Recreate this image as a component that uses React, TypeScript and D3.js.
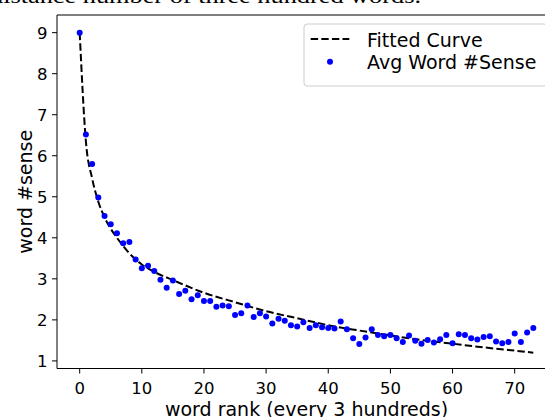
import React from "react";
import * as d3 from "d3";

// average #sense per rank bucket (every 300 words)
const ranks = d3.range(0, 74);
const senses = [
  9.0, 6.52, 5.8, 4.98, 4.53, 4.33, 4.11, 3.87, 3.9, 3.47,
  3.26, 3.32, 3.19, 2.98, 2.78, 2.96, 2.63, 2.71, 2.5, 2.6,
  2.46, 2.46, 2.32, 2.35, 2.33, 2.12, 2.16, 2.35, 2.07, 2.16,
  2.08, 1.91, 2.03, 1.98, 1.87, 1.84, 1.94, 1.8, 1.87, 1.82,
  1.8, 1.79, 1.96, 1.77, 1.55, 1.41, 1.57, 1.77, 1.63, 1.6,
  1.63, 1.55, 1.46, 1.62, 1.49, 1.42, 1.51, 1.45, 1.53, 1.63,
  1.43, 1.65, 1.63, 1.55, 1.52, 1.58, 1.6, 1.47, 1.43, 1.46,
  1.67, 1.46, 1.69, 1.8,
];

// fitted curve
const fitX = [0, 1, 2, 3, 4, 5, 6, 8, 10, 12, 15, 20, 25, 30, 35, 40, 45, 50, 55, 60, 65, 70, 73];
const fitY = [9.0, 6.35, 5.45, 4.88, 4.5, 4.22, 4.0, 3.62, 3.35, 3.17, 2.97, 2.66, 2.43, 2.21, 2.04, 1.87, 1.74, 1.62, 1.51, 1.42, 1.33, 1.25, 1.2];

const xTicks = [0, 10, 20, 30, 40, 50, 60, 70];
const yTicks = [1, 2, 3, 4, 5, 6, 7, 8, 9];

const W = 545;
const H = 417;
const left = 57, right = 556, top = 15, bottom = 368.5;
const font = "'DejaVu Sans', sans-serif";

export default function App() {
  const x = d3.scaleLinear().domain([-3.65, 76.65]).range([left, right]);
  const y = d3.scaleLinear().domain([0.815, 9.43]).range([bottom, top]);

  const fitLine = d3
    .line<number>()
    .x((d, i) => x(fitX[i]))
    .y(d => y(d))
    .curve(d3.curveMonotoneX);

  return (
    <svg width={W} height={H} style={{ position: "absolute", left: 0, top: 0 }}>
      <rect width={W} height={H} fill="#fff" />
      {/* tail of the paper's caption line above the figure */}
      <text x={-10} y={3} fontFamily="'Liberation Serif', serif" fontSize={20} textLength={431} lengthAdjust="spacingAndGlyphs">
        distance number of three hundred words.
      </text>

      <path d={fitLine(fitY) || ""} fill="none" stroke="#000" strokeWidth={2} strokeDasharray="7.4 3.2" />
      {ranks.map((r, i) => (
        <circle key={r} cx={x(r)} cy={y(senses[i])} r={3} fill="#0000ff" />
      ))}

      {/* axes frame */}
      <line x1={left} x2={W} y1={top} y2={top} stroke="#000" strokeWidth={1} />
      <line x1={left} x2={left} y1={top} y2={bottom} stroke="#000" strokeWidth={1} />
      <line x1={left} x2={W} y1={bottom} y2={bottom} stroke="#000" strokeWidth={1} />

      {xTicks.map(t => (
        <g key={t} transform={`translate(${x(t)},0)`}>
          <line y1={bottom} y2={bottom + 5} stroke="#000" />
          <text y={394} textAnchor="middle" fontFamily={font} fontSize={16.5}>
            {t}
          </text>
        </g>
      ))}
      {yTicks.map(t => (
        <g key={t} transform={`translate(0,${y(t)})`}>
          <line x1={left - 5} x2={left} stroke="#000" />
          <text x={47.5} textAnchor="end" dy="0.36em" fontFamily={font} fontSize={16.5}>
            {t}
          </text>
        </g>
      ))}

      <text x={(left + right) / 2} y={416} textAnchor="middle" fontFamily={font} fontSize={19}>
        word rank (every 3 hundreds)
      </text>
      <text
        transform={`translate(32,${(top + bottom) / 2}) rotate(-90)`}
        textAnchor="middle"
        fontFamily={font}
        fontSize={19}
      >
        word #sense
      </text>

      {/* legend */}
      <rect x={304} y={24} width={243} height={62} rx={3} fill="#fff" fillOpacity={0.8} stroke="#cccccc" />
      <line x1={310.7} x2={349.3} y1={39} y2={39} stroke="#000" strokeWidth={2} strokeDasharray="7.4 3.2" />
      <text x={367} y={46.5} fontFamily={font} fontSize={19}>
        Fitted Curve
      </text>
      <circle cx={330} cy={61.7} r={3} fill="#0000ff" />
      <text x={367} y={68.5} fontFamily={font} fontSize={19}>
        Avg Word #Sense
      </text>
    </svg>
  );
}
